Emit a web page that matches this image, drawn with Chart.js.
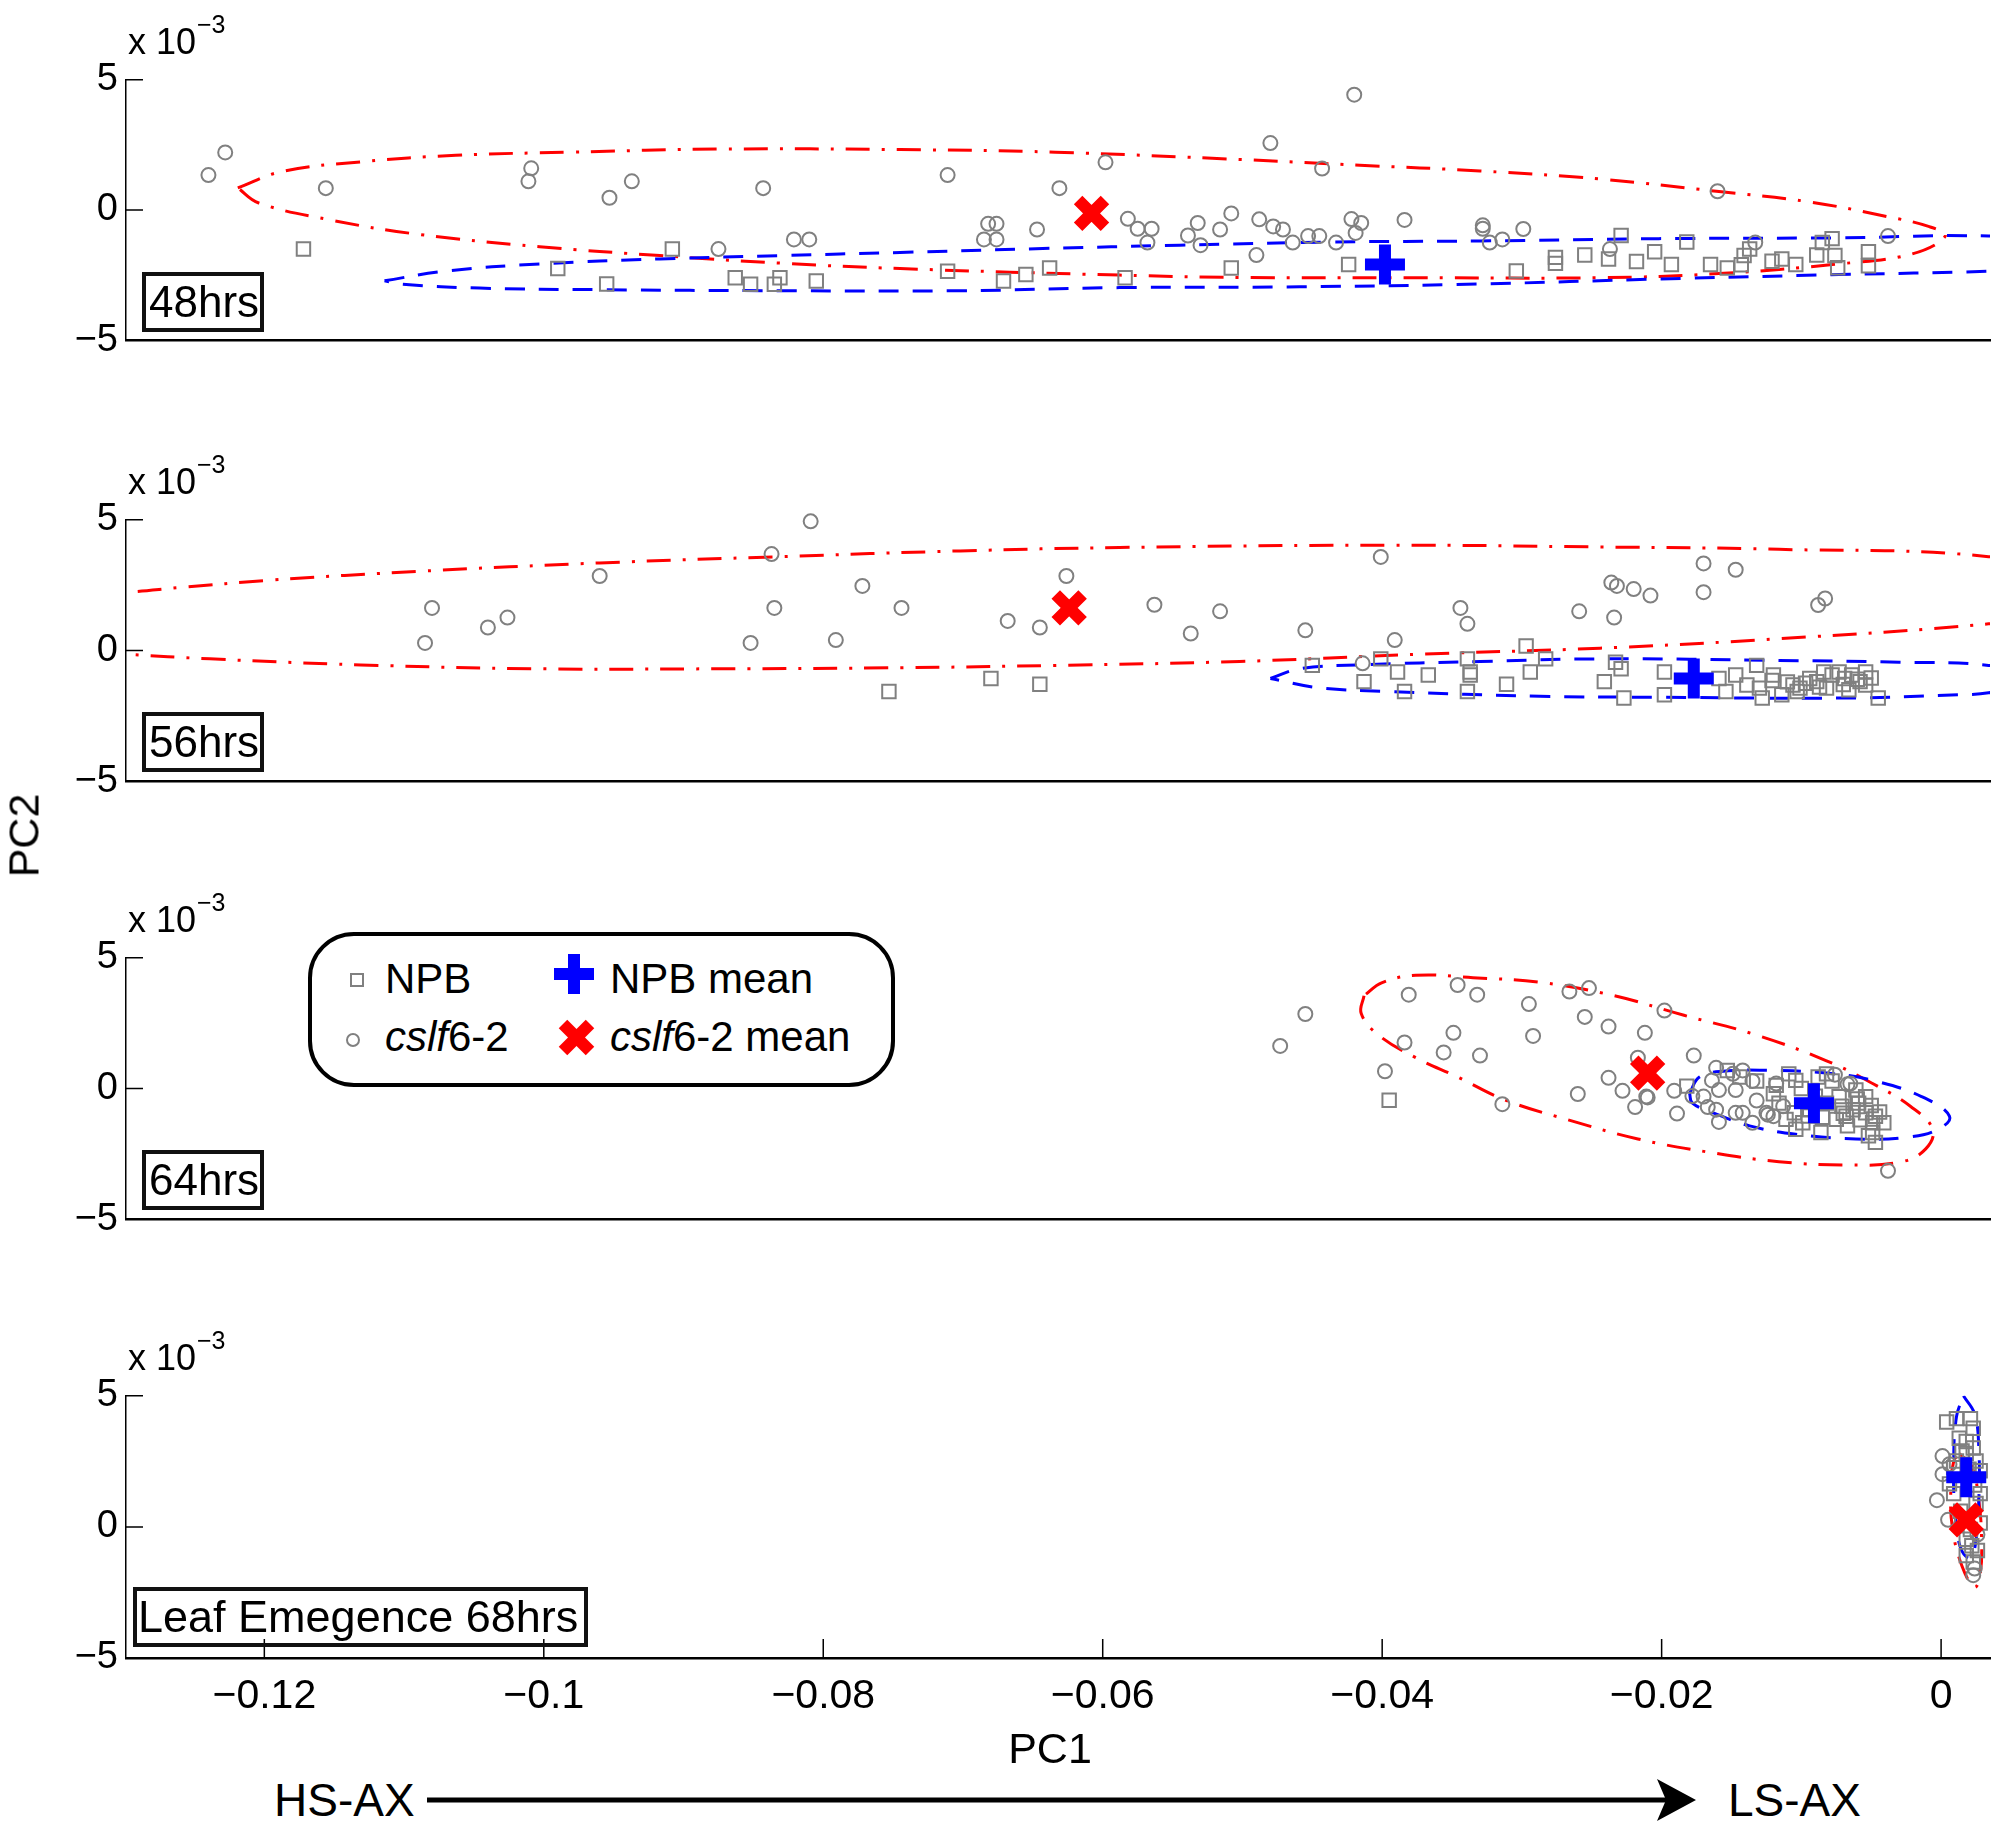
<!DOCTYPE html>
<html>
<head>
<meta charset="utf-8">
<script src="https://cdn.jsdelivr.net/npm/chart.js@4.4.1/dist/chart.umd.min.js"></script>
<style>
  body { margin: 0; background: #fff; }
  #page { position: relative; width: 2000px; height: 1829px; overflow: hidden; background: #fff;
          font-family: "Liberation Sans", Arial, sans-serif; color: #000; }
  #page canvas { position: absolute; left: 0; }
  .t { position: absolute; white-space: nowrap; line-height: 1; }
  .box { position: absolute; border: 4px solid #111; box-sizing: border-box; white-space: nowrap; }
  #overlay { position: absolute; left: 0; top: 0; }
</style>
</head>
<body>
<div id="page"></div>
<script>
// axes
const xTicks = [-0.12, -0.1, -0.08, -0.06, -0.04, -0.02, 0];
const yTicks = [-5, 0, 5];
const xMin = -0.1299, xMax = 0.0035;
const panelLabels = ['48hrs', '56hrs', '64hrs', 'Leaf Emegence 68hrs'];

// PC1 as is, PC2 in units of 1e-3
// 48hrs
const h48Npb = [[-0.1172,-1.50],[-0.0908,-1.50],[-0.0990,-2.25],[-0.0955,-2.84],[-0.0863,-2.60],[-0.0852,-2.85],
  [-0.0835,-2.85],[-0.0831,-2.60],[-0.0805,-2.73],[-0.0711,-2.35],[-0.0671,-2.73],[-0.0655,-2.48],[-0.0638,-2.23],
  [-0.0584,-2.60],[-0.0508,-2.23],[-0.0424,-2.09],[-0.0304,-2.34],[-0.0276,-1.82],[-0.0276,-2.05],[-0.0255,-1.73],
  [-0.0238,-1.88],[-0.0229,-0.98],[-0.0218,-1.98],[-0.0205,-1.60],[-0.0193,-2.09],[-0.0182,-1.23],[-0.0165,-2.09],
  [-0.0153,-2.23],[-0.0143,-2.10],[-0.0141,-1.75],[-0.0137,-1.50],[-0.0121,-1.97],[-0.0114,-1.88],[-0.0104,-2.09],
  [-0.0089,-1.73],[-0.0085,-1.25],[-0.0078,-1.10],[-0.0076,-1.75],[-0.0074,-2.22],[-0.0052,-1.60],[-0.0052,-2.14]];
const h48Cslf = [[-0.1240,1.34],[-0.1228,2.21],[-0.1156,0.84],[-0.1009,1.60],[-0.1011,1.10],[-0.0953,0.47],
  [-0.0937,1.10],[-0.0843,0.84],[-0.0711,1.34],[-0.0631,0.84],[-0.0875,-1.50],[-0.0821,-1.13],[-0.0810,-1.13],
  [-0.0682,-0.53],[-0.0676,-0.53],[-0.0685,-1.13],[-0.0676,-1.13],[-0.0647,-0.75],[-0.0420,4.43],[-0.0480,2.57],
  [-0.0598,1.83],[-0.0443,1.59],[-0.0160,0.72],[-0.0582,-0.34],[-0.0575,-0.72],[-0.0565,-0.72],[-0.0568,-1.25],
  [-0.0532,-0.50],[-0.0539,-0.98],[-0.0530,-1.35],[-0.0516,-0.75],[-0.0508,-0.13],[-0.0488,-0.36],[-0.0478,-0.63],
  [-0.0471,-0.75],[-0.0490,-1.73],[-0.0464,-1.25],[-0.0453,-1.00],[-0.0445,-1.00],[-0.0433,-1.25],[-0.0422,-0.35],
  [-0.0415,-0.50],[-0.0419,-0.88],[-0.0384,-0.38],[-0.0328,-0.59],[-0.0328,-0.72],[-0.0323,-1.25],[-0.0314,-1.13],
  [-0.0299,-0.73],[-0.0237,-1.50],[-0.0133,-1.25],[-0.0038,-1.00]];
const h48NpbMean = [[-0.0398,-2.09]];
const h48CslfMean = [[-0.0608,-0.13]];
const h48NpbEllipse = [[-0.1114,-2.72],[-0.1071,-2.35],[-0.1003,-2.07],[-0.0917,-1.88],[-0.0831,-1.75],[-0.0745,-1.63],
  [-0.0643,-1.48],[-0.0545,-1.35],[-0.0437,-1.23],[-0.0330,-1.19],[-0.0202,-1.10],[-0.0073,-1.07],[0.0034,-1.00],
  [0.0090,-1.30],[0.0100,-1.80],[0.0080,-2.20],[0.0034,-2.35],[-0.0073,-2.48],[-0.0202,-2.65],[-0.0330,-2.84],
  [-0.0459,-2.95],[-0.0588,-2.98],[-0.0702,-3.10],[-0.0831,-3.10],[-0.0960,-3.06],[-0.1046,-3.00],[-0.1101,-2.85],
  [-0.1114,-2.72]];
const h48CslfEllipse = [[-0.1219,0.85],[-0.1188,1.47],[-0.1131,1.85],[-0.1063,2.10],[-0.0981,2.22],[-0.0874,2.34],
  [-0.0745,2.32],[-0.0634,2.22],[-0.0502,1.94],[-0.0416,1.72],[-0.0330,1.50],[-0.0244,1.19],[-0.0159,0.71],
  [-0.0094,0.31],[-0.0039,-0.25],[-0.0009,-0.63],[0.0003,-1.00],[-0.0021,-1.69],[-0.0073,-2.07],[-0.0159,-2.44],
  [-0.0244,-2.60],[-0.0373,-2.60],[-0.0502,-2.59],[-0.0588,-2.50],[-0.0745,-2.25],[-0.0831,-2.04],[-0.0917,-1.75],
  [-0.1003,-1.41],[-0.1089,-0.94],[-0.1153,-0.38],[-0.1204,0.27],[-0.1219,0.85]];

// 56hrs
const h56Npb = [[-0.0753,-1.57],[-0.0680,-1.07],[-0.0645,-1.29],[-0.0450,-0.57],[-0.0401,-0.32],[-0.0413,-1.19],
  [-0.0389,-0.82],[-0.0384,-1.57],[-0.0367,-0.94],[-0.0339,-0.32],[-0.0337,-0.82],[-0.0337,-0.94],[-0.0339,-1.57],
  [-0.0311,-1.29],[-0.0297,0.17],[-0.0294,-0.82],[-0.0283,-0.32],[-0.0241,-1.19],[-0.0233,-0.45],[-0.0229,-0.70],
  [-0.0227,-1.82],[-0.0198,-0.82],[-0.0198,-1.69],[-0.0159,-1.07],[-0.0154,-1.57],[-0.0147,-0.94],[-0.0139,-1.32],
  [-0.0132,-0.57],[-0.0128,-1.82],[-0.0130,-1.44],[-0.0120,-0.94],[-0.0114,-1.69],[-0.0106,-1.32],[-0.0101,-1.44],
  [-0.0094,-1.07],[-0.0089,-1.19],[-0.0084,-0.82],[-0.0078,-0.94],[-0.0073,-0.82],[-0.0069,-1.07],[-0.0064,-0.94],
  [-0.0058,-1.19],[-0.0054,-0.82],[-0.0054,-1.32],[-0.0045,-1.82],[-0.0082,-1.44],[-0.0103,-1.57],[-0.0110,-1.20],
  [-0.0097,-1.25],[-0.0087,-1.40],[-0.0070,-1.30],[-0.0060,-1.10],[-0.0050,-1.05],[-0.0066,-1.50],[-0.0121,-1.15]];
const h56Cslf = [[-0.1080,1.63],[-0.1085,0.29],[-0.1040,0.88],[-0.1026,1.26],[-0.0960,2.85],[-0.0809,4.94],
  [-0.0837,3.69],[-0.0835,1.63],[-0.0852,0.29],[-0.0772,2.47],[-0.0744,1.63],[-0.0791,0.40],[-0.0668,1.13],
  [-0.0645,0.88],[-0.0626,2.85],[-0.0563,1.75],[-0.0516,1.50],[-0.0537,0.65],[-0.0455,0.77],[-0.0401,3.58],
  [-0.0391,0.40],[-0.0344,1.63],[-0.0339,1.02],[-0.0259,1.50],[-0.0234,1.26],[-0.0236,2.60],[-0.0232,2.47],
  [-0.0220,2.35],[-0.0208,2.10],[-0.0170,3.33],[-0.0147,3.09],[-0.0170,2.23],[-0.0083,1.99],[-0.0088,1.74],
  [-0.0414,-0.49]];
const h56NpbMean = [[-0.0177,-1.07]];
const h56CslfMean = [[-0.0624,1.63]];
const h56NpbEllipse = [[-0.0480,-1.07],[-0.0459,-0.70],[-0.0416,-0.55],[-0.0330,-0.42],[-0.0244,-0.32],[-0.0116,-0.38],
  [-0.0030,-0.45],[0.0034,-0.57],[0.0080,-1.10],[0.0034,-1.62],[0.0013,-1.69],[-0.0073,-1.82],[-0.0202,-1.79],
  [-0.0287,-1.75],[-0.0395,-1.57],[-0.0446,-1.42],[-0.0480,-1.07]];
const h56CslfEllipse = [[-0.1400,1.95],[-0.1299,2.23],[-0.1260,2.41],[-0.1196,2.69],[-0.1089,3.03],[-0.0960,3.35],
  [-0.0831,3.59],[-0.0702,3.81],[-0.0588,3.94],[-0.0395,4.03],[-0.0244,3.96],[-0.0116,3.87],[0.0034,3.59],
  [0.0120,2.60],[0.0090,1.45],[0.0034,1.02],[-0.0116,0.45],[-0.0244,0.09],[-0.0373,-0.14],[-0.0502,-0.42],
  [-0.0634,-0.57],[-0.0745,-0.66],[-0.0874,-0.70],[-0.1003,-0.70],[-0.1131,-0.55],[-0.1239,-0.32],[-0.1299,-0.14],
  [-0.1400,0.20],[-0.1450,1.00],[-0.1400,1.95]];

// 64hrs
const h64Npb = [[-0.0395,-0.45],[-0.0182,0.09],[-0.0153,0.69],[-0.0144,0.44],[-0.0132,0.29],[-0.0118,0.12],
  [-0.0109,0.56],[-0.0104,0.31],[-0.0088,0.44],[-0.0082,0.56],[-0.0078,0.29],[-0.0111,-1.18],[-0.0105,-0.93],
  [-0.0099,-1.31],[-0.0104,-1.56],[-0.0086,-1.68],[-0.0073,-0.31],[-0.0071,-0.68],[-0.0068,-1.06],[-0.0067,-1.43],
  [-0.0061,-0.06],[-0.0059,-0.56],[-0.0054,-0.31],[-0.0054,-0.93],[-0.0049,-1.31],[-0.0047,-1.06],[-0.0041,-1.31],
  [-0.0052,-1.81],[-0.0047,-2.06],[-0.0049,-1.68],[-0.0063,-0.81],[-0.0075,-1.18],[-0.0082,-0.56],[-0.0094,-0.81],
  [-0.0116,-0.56],[-0.0090,-0.30],[-0.0060,-0.40],[-0.0070,-0.95],[-0.0058,-1.20],[-0.0095,-1.05],[-0.0085,-1.10],
  [-0.0050,-0.65],[-0.0044,-0.90],[-0.0120,-0.20],[-0.0100,0.00]];
const h64Cslf = [[-0.0473,1.63],[-0.0455,2.85],[-0.0398,0.66],[-0.0381,3.59],[-0.0384,1.76],[-0.0346,3.96],
  [-0.0332,3.59],[-0.0349,2.13],[-0.0356,1.38],[-0.0330,1.26],[-0.0295,3.23],[-0.0292,2.01],[-0.0314,-0.60],
  [-0.0266,3.71],[-0.0252,3.84],[-0.0255,2.74],[-0.0238,2.37],[-0.0212,2.13],[-0.0198,2.98],[-0.0238,0.41],
  [-0.0260,-0.21],[-0.0228,-0.09],[-0.0219,-0.71],[-0.0210,-0.34],[-0.0217,1.18],[-0.0177,1.26],[-0.0191,-0.09],
  [-0.0189,-0.96],[-0.0038,-3.15],[-0.0211,-0.31],[-0.0178,-0.29],[-0.0170,-0.31],[-0.0167,-0.71],[-0.0161,-0.81],
  [-0.0159,-1.28],[-0.0161,0.79],[-0.0164,0.31],[-0.0159,-0.06],[-0.0147,-0.06],[-0.0149,0.56],[-0.0142,0.69],
  [-0.0135,0.29],[-0.0132,-0.46],[-0.0147,-0.93],[-0.0142,-0.93],[-0.0135,-1.31],[-0.0125,-0.93],[-0.0120,-1.06],
  [-0.0113,-0.68],[-0.0118,0.19],[-0.0076,0.53],[-0.0067,0.16],[-0.0124,-1.00],[-0.0065,0.19]];
const h64NpbMean = [[-0.0091,-0.56]];
const h64CslfMean = [[-0.0210,0.59]];
const h64NpbEllipse = [[-0.0180,-0.19],[-0.0173,0.44],[-0.0156,0.66],[-0.0120,0.69],[-0.0082,0.59],[-0.0049,0.31],
  [-0.0014,-0.31],[0.0006,-1.06],[-0.0002,-1.56],[-0.0025,-1.87],[-0.0061,-1.93],[-0.0104,-1.75],[-0.0137,-1.43],
  [-0.0163,-0.93],[-0.0178,-0.56],[-0.0180,-0.19]];
const h64CslfEllipse = [[-0.0413,3.55],[-0.0415,2.87],[-0.0403,2.06],[-0.0376,1.18],[-0.0346,0.44],[-0.0312,-0.44],
  [-0.0268,-1.18],[-0.0217,-1.93],[-0.0167,-2.43],[-0.0116,-2.80],[-0.0065,-2.93],[-0.0028,-2.80],[-0.0011,-2.31],
  [-0.0006,-1.56],[-0.0022,-0.68],[-0.0049,0.19],[-0.0082,1.06],[-0.0133,2.06],[-0.0184,2.80],[-0.0234,3.55],
  [-0.0285,4.05],[-0.0335,4.24],[-0.0376,4.33],[-0.0400,4.05],[-0.0413,3.55]];

// Leaf Emegence 68hrs
const h68Npb = [[0.0004,4.00],[0.0011,4.13],[0.0021,4.13],[0.0023,3.76],[0.0013,3.38],[0.0018,3.26],[0.0023,3.01],
  [0.0015,2.90],[0.0018,2.80],[0.0025,2.51],[0.0011,2.51],[0.0009,2.26],[0.0028,2.14],[0.0006,1.64],[0.0028,1.27],
  [0.0009,1.27],[0.0025,0.89],[0.0018,-0.47],[0.0022,-0.72],[0.0018,-1.09],[0.0023,-1.34],[0.0021,-0.10],
  [0.0028,0.15],[0.0020,2.20],[0.0024,1.60],[0.0014,0.60],[0.0026,-0.90]];
const h68Cslf = [[0.0001,2.70],[0.0001,2.01],[-0.0003,1.02],[0.0005,0.27],[0.0024,-1.59],[0.0023,-1.84],
  [0.0026,-0.29],[0.0006,2.39]];
const h68NpbMean = [[0.0018,1.89]];
const h68CslfMean = [[0.0018,0.27]];
const h68NpbEllipse = [[0.0016,5.0],[0.0024,4.3],[0.0027,3.0],[0.0027,1.0],[0.0025,-0.5],[0.0021,-1.2],[0.0014,-0.8],
  [0.0010,0.5],[0.0009,2.5],[0.0011,4.2],[0.0016,5.0]];
const h68CslfEllipse = [[0.0013,2.8],[0.0022,2.3],[0.0027,1.0],[0.0029,-0.5],[0.0028,-1.8],[0.0024,-2.3],[0.0015,-1.5],
  [0.0008,0.0],[0.0007,1.5],[0.0009,2.5],[0.0013,2.8]];

const panels = [
  {npb: h48Npb, cslf: h48Cslf, npbMean: h48NpbMean, cslfMean: h48CslfMean, npbEll: h48NpbEllipse, cslfEll: h48CslfEllipse},
  {npb: h56Npb, cslf: h56Cslf, npbMean: h56NpbMean, cslfMean: h56CslfMean, npbEll: h56NpbEllipse, cslfEll: h56CslfEllipse},
  {npb: h64Npb, cslf: h64Cslf, npbMean: h64NpbMean, cslfMean: h64CslfMean, npbEll: h64NpbEllipse, cslfEll: h64CslfEllipse},
  {npb: h68Npb, cslf: h68Cslf, npbMean: h68NpbMean, cslfMean: h68CslfMean, npbEll: h68NpbEllipse, cslfEll: h68CslfEllipse}
];

// layout (page pixels)
const FONT = '"Liberation Sans", Arial, sans-serif';
const geom = [{top: 74, bottom: 340.6}, {top: 514, bottom: 782}, {top: 951.5, bottom: 1219}, {top: 1390, bottom: 1658}];
const PAD_TOP = 25;
const GRAY = '#808080', BLUE = '#0000ff', RED = '#ff0000';

const page = document.getElementById('page');
const pts = a => a.map(p => ({x: p[0], y: p[1]}));
const fmt = v => v === 0 ? '0' : (v < 0 ? '\u2212' : '') + String(Math.abs(v));

// MATLAB style ticks pointing into the axes
const innerTicks = {
  id: 'innerTicks',
  afterDatasetsDraw(chart, args, opts) {
    const {ctx, chartArea: a, scales: {x, y}} = chart;
    ctx.save();
    ctx.strokeStyle = '#000';
    ctx.lineWidth = 1.5;
    ctx.beginPath();
    y.ticks.forEach(t => {
      const py = y.getPixelForValue(t.value);
      ctx.moveTo(a.left, py); ctx.lineTo(a.left + 17, py);
    });
    if (opts.xTicks) {
      x.ticks.forEach(t => {
        const px = x.getPixelForValue(t.value);
        ctx.moveTo(px, a.bottom); ctx.lineTo(px, a.bottom - 19);
      });
    }
    ctx.stroke();
    ctx.restore();
  }
};

function addText(html, left, top, size, style) {
  const d = document.createElement('div');
  d.className = 't';
  d.innerHTML = html;
  d.style.left = left + 'px';
  d.style.top = top + 'px';
  d.style.fontSize = size + 'px';
  if (style) Object.assign(d.style, style);
  page.appendChild(d);
  return d;
}

const ellipse = (data, color, dash) => ({
  data: pts(data), showLine: true, tension: 0.4, fill: false, pointRadius: 0, pointHoverRadius: 0,
  borderColor: color, borderWidth: 3, borderDash: dash, order: 3
});

panels.forEach((p, i) => {
  const g = geom[i], last = i === panels.length - 1;
  const bottomH = last ? 90 : 30;
  const cv = document.createElement('canvas');
  cv.width = 2000;
  cv.height = Math.round(g.bottom - g.top) + PAD_TOP + bottomH;
  cv.style.top = (g.top - PAD_TOP) + 'px';
  page.appendChild(cv);

  new Chart(cv, {
    type: 'scatter',
    data: {
      datasets: [
        {data: pts(p.npbMean), pointStyle: 'cross', pointRadius: 20, pointHoverRadius: 20, borderWidth: 12, borderColor: BLUE, order: 0, clip: false},
        {data: pts(p.cslfMean), pointStyle: 'crossRot', pointRadius: 19, pointHoverRadius: 19, borderWidth: 12, borderColor: RED, order: 0, clip: false},
        {data: pts(p.cslf), pointStyle: 'circle', pointRadius: 7, borderWidth: 2, borderColor: GRAY, backgroundColor: 'rgba(0,0,0,0)', order: 1, clip: false},
        {data: pts(p.npb), pointStyle: 'rect', pointRadius: 9.5, borderWidth: 2, borderColor: GRAY, backgroundColor: 'rgba(0,0,0,0)', order: 2, clip: false},
        ellipse(p.npbEll, BLUE, [20, 14]),
        ellipse(p.cslfEll, RED, [24, 12, 3, 12])
      ]
    },
    options: {
      responsive: false,
      devicePixelRatio: 1,
      animation: false,
      events: [],
      layout: {autoPadding: false, padding: {top: PAD_TOP, right: 10, bottom: 0, left: 0}},
      plugins: {legend: {display: false}, tooltip: {enabled: false}, innerTicks: {xTicks: last}},
      scales: {
        x: {
          type: 'linear', min: xMin, max: xMax,
          afterBuildTicks: s => { s.ticks = xTicks.map(v => ({value: v})); },
          afterFit: s => { s.height = bottomH; },
          grid: {drawOnChartArea: false, drawTicks: false},
          border: {display: true, color: '#000', width: 2.5},
          ticks: {display: last, padding: 14, color: '#000', maxRotation: 0, autoSkip: false,
                  font: {family: FONT, size: 41}, callback: v => fmt(v)}
        },
        y: {
          type: 'linear', min: -5, max: 5,
          afterBuildTicks: s => { s.ticks = yTicks.map(v => ({value: v})); },
          afterFit: s => { s.width = 126; },
          grid: {drawOnChartArea: false, drawTicks: false},
          border: {display: true, color: '#000', width: 1.5},
          ticks: {padding: 8, color: '#000', font: {family: FONT, size: 38}, callback: v => fmt(v)}
        }
      }
    },
    plugins: [innerTicks]
  });

  // exponent above each axis
  addText('x 10', 128, g.top - 50, 36);
  addText('\u22123', 197, g.top - 62, 25);

  // panel label box
  const b = document.createElement('div');
  b.className = 'box';
  b.textContent = panelLabels[i];
  Object.assign(b.style, last
    ? {left: '133px', top: (g.top + 197) + 'px', width: '455px', height: '60px', fontSize: '45px', lineHeight: '52px', paddingLeft: '1px'}
    : {left: '142px', top: (g.top + 198) + 'px', width: '122px', height: '60px', fontSize: '44px', lineHeight: '52px', paddingLeft: '3px'});
  page.appendChild(b);
});

// axis titles
addText('PC1', 950, 1727, 43, {width: '200px', textAlign: 'center'});
addText('PC2', -76, 814, 43, {width: '200px', textAlign: 'center', transform: 'rotate(-90deg)'});

// legend
const lg = document.createElement('div');
lg.className = 'box';
Object.assign(lg.style, {left: '308px', top: '932px', width: '587px', height: '155px', borderRadius: '46px', borderColor: '#000', background: '#fff'});
page.appendChild(lg);
addText('NPB', 385, 958, 42);
addText('<i>cslf</i>6-2', 385, 1016, 42);
addText('NPB mean', 610, 958, 42);
addText('<i>cslf</i>6-2 mean', 610, 1016, 42);

// HS-AX to LS-AX arrow
addText('HS-AX', 274, 1777, 46);
addText('LS-AX', 1728, 1777, 46);

const svgNS = 'http://www.w3.org/2000/svg';
const svg = document.createElementNS(svgNS, 'svg');
svg.setAttribute('id', 'overlay');
svg.setAttribute('width', '2000');
svg.setAttribute('height', '1829');
svg.innerHTML =
  '<line x1="427" y1="1800" x2="1668" y2="1800" stroke="#000" stroke-width="5"/>' +
  '<polygon points="1657,1779 1696,1800 1657,1821 1666,1800" fill="#000"/>' +
  '<rect x="351" y="974" width="12" height="12" fill="none" stroke="' + GRAY + '" stroke-width="2"/>' +
  '<circle cx="353" cy="1040" r="6" fill="none" stroke="' + GRAY + '" stroke-width="2"/>' +
  '<rect x="554" y="968" width="40" height="12" fill="' + BLUE + '"/>' +
  '<rect x="568" y="954" width="12" height="40" fill="' + BLUE + '"/>' +
  '<line x1="563" y1="1024" x2="590" y2="1051" stroke="' + RED + '" stroke-width="12"/>' +
  '<line x1="590" y1="1024" x2="563" y2="1051" stroke="' + RED + '" stroke-width="12"/>';
page.appendChild(svg);
</script>
</body>
</html>
